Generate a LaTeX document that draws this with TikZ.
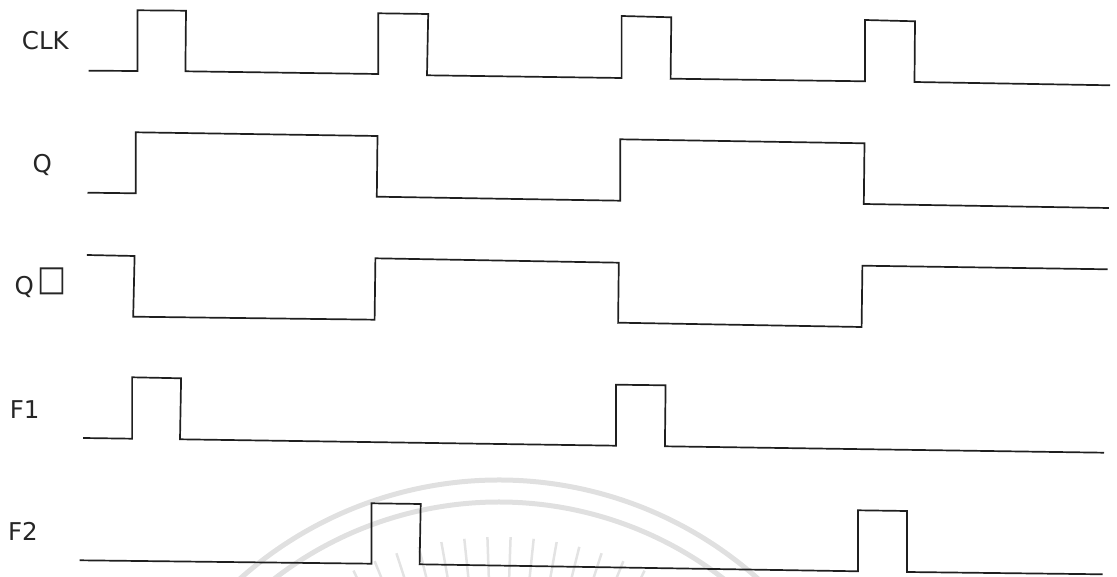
\documentclass[tikz,border=0pt]{standalone}
\usepackage{fontspec}
\setmainfont{DejaVu Sans}
\begin{document}
\begin{tikzpicture}[x=1pt,y=-1pt,
  signal/.style={draw=black!88,line width=1.7pt,line join=miter},
  lbl/.style={anchor=base west,inner sep=0pt,font=\fontsize{24.5}{28}\selectfont,text=black!85},
  wm/.style={draw=black!12,line width=5pt}]
\useasboundingbox (0,0) rectangle (1117,577);
% faint watermark
\begin{scope}
\clip (0,0) rectangle (1117,577);
\draw[wm] (499,869) ++(-143:389) arc[start angle=-143,end angle=-37,radius=389];
\draw[wm] (499,869) ++(-141:367) arc[start angle=-141,end angle=-39,radius=367];
\foreach \a in {-64,-68,...,-116}{
  \draw[draw=black!11,line width=2.5pt] (499,869) ++(\a:292) -- ++(\a:40);
}
\end{scope}
% labels
\node[lbl] (clk) at (21.7,50) {CLK};
\node[lbl] (q) at (32.5,172.5) {Q};
\node[lbl] (qb) at (14.5,295) {Q};
\node[anchor=south west,inner sep=0pt,text=black!85] (qbox) at (37.4,295) {\resizebox*{29pt}{27pt}{\fontsize{24}{28}\selectfont □}};
\node[lbl] (f1) at (9.6,418.7) {F1};
\node[lbl] (f2) at (7.9,540) {F2};
% CLK
\draw[signal] (88.6,70.7) -- (137.5,71) -- (137.5,10.3) -- (186,10.7) -- (185.4,71.3) -- (378.2,74) -- (378.2,13.3) -- (428.2,14) -- (427,75.3) -- (621.6,78) -- (621.6,16) -- (671.3,17.3) -- (670.6,78.7) -- (865,81.3) -- (865,20) -- (915,21.3) -- (914.5,82) -- (1110,85.3);
% Q
\draw[signal] (87.5,192.7) -- (135.7,193.3) -- (135.7,132.3) -- (377.5,136) -- (376.8,196.7) -- (620.2,200.7) -- (620.2,139.3) -- (864.5,143.3) -- (863.8,204) -- (1108.8,208);
% Q bar
\draw[signal] (86.8,255) -- (134.6,256) -- (133.2,316.7) -- (374.6,319.7) -- (375.4,258.3) -- (618.8,262.7) -- (618.1,322.7) -- (861.6,327) -- (862.4,265.7) -- (1107.7,269.3);
% F1
\draw[signal] (83.2,438) -- (132.1,438.7) -- (132.1,377.3) -- (181.1,378.3) -- (180,439.3) -- (615.9,445.7) -- (615.9,384.7) -- (665.6,385.3) -- (664.9,446.3) -- (1104,452.7);
% F2
\draw[signal] (79.6,560.3) -- (371.4,563.7) -- (371.4,503.3) -- (420.7,504) -- (419.6,564.3) -- (858,571.3) -- (858,510.3) -- (907,511) -- (907,572) -- (1102.7,574.3);
\end{tikzpicture}
\end{document}
